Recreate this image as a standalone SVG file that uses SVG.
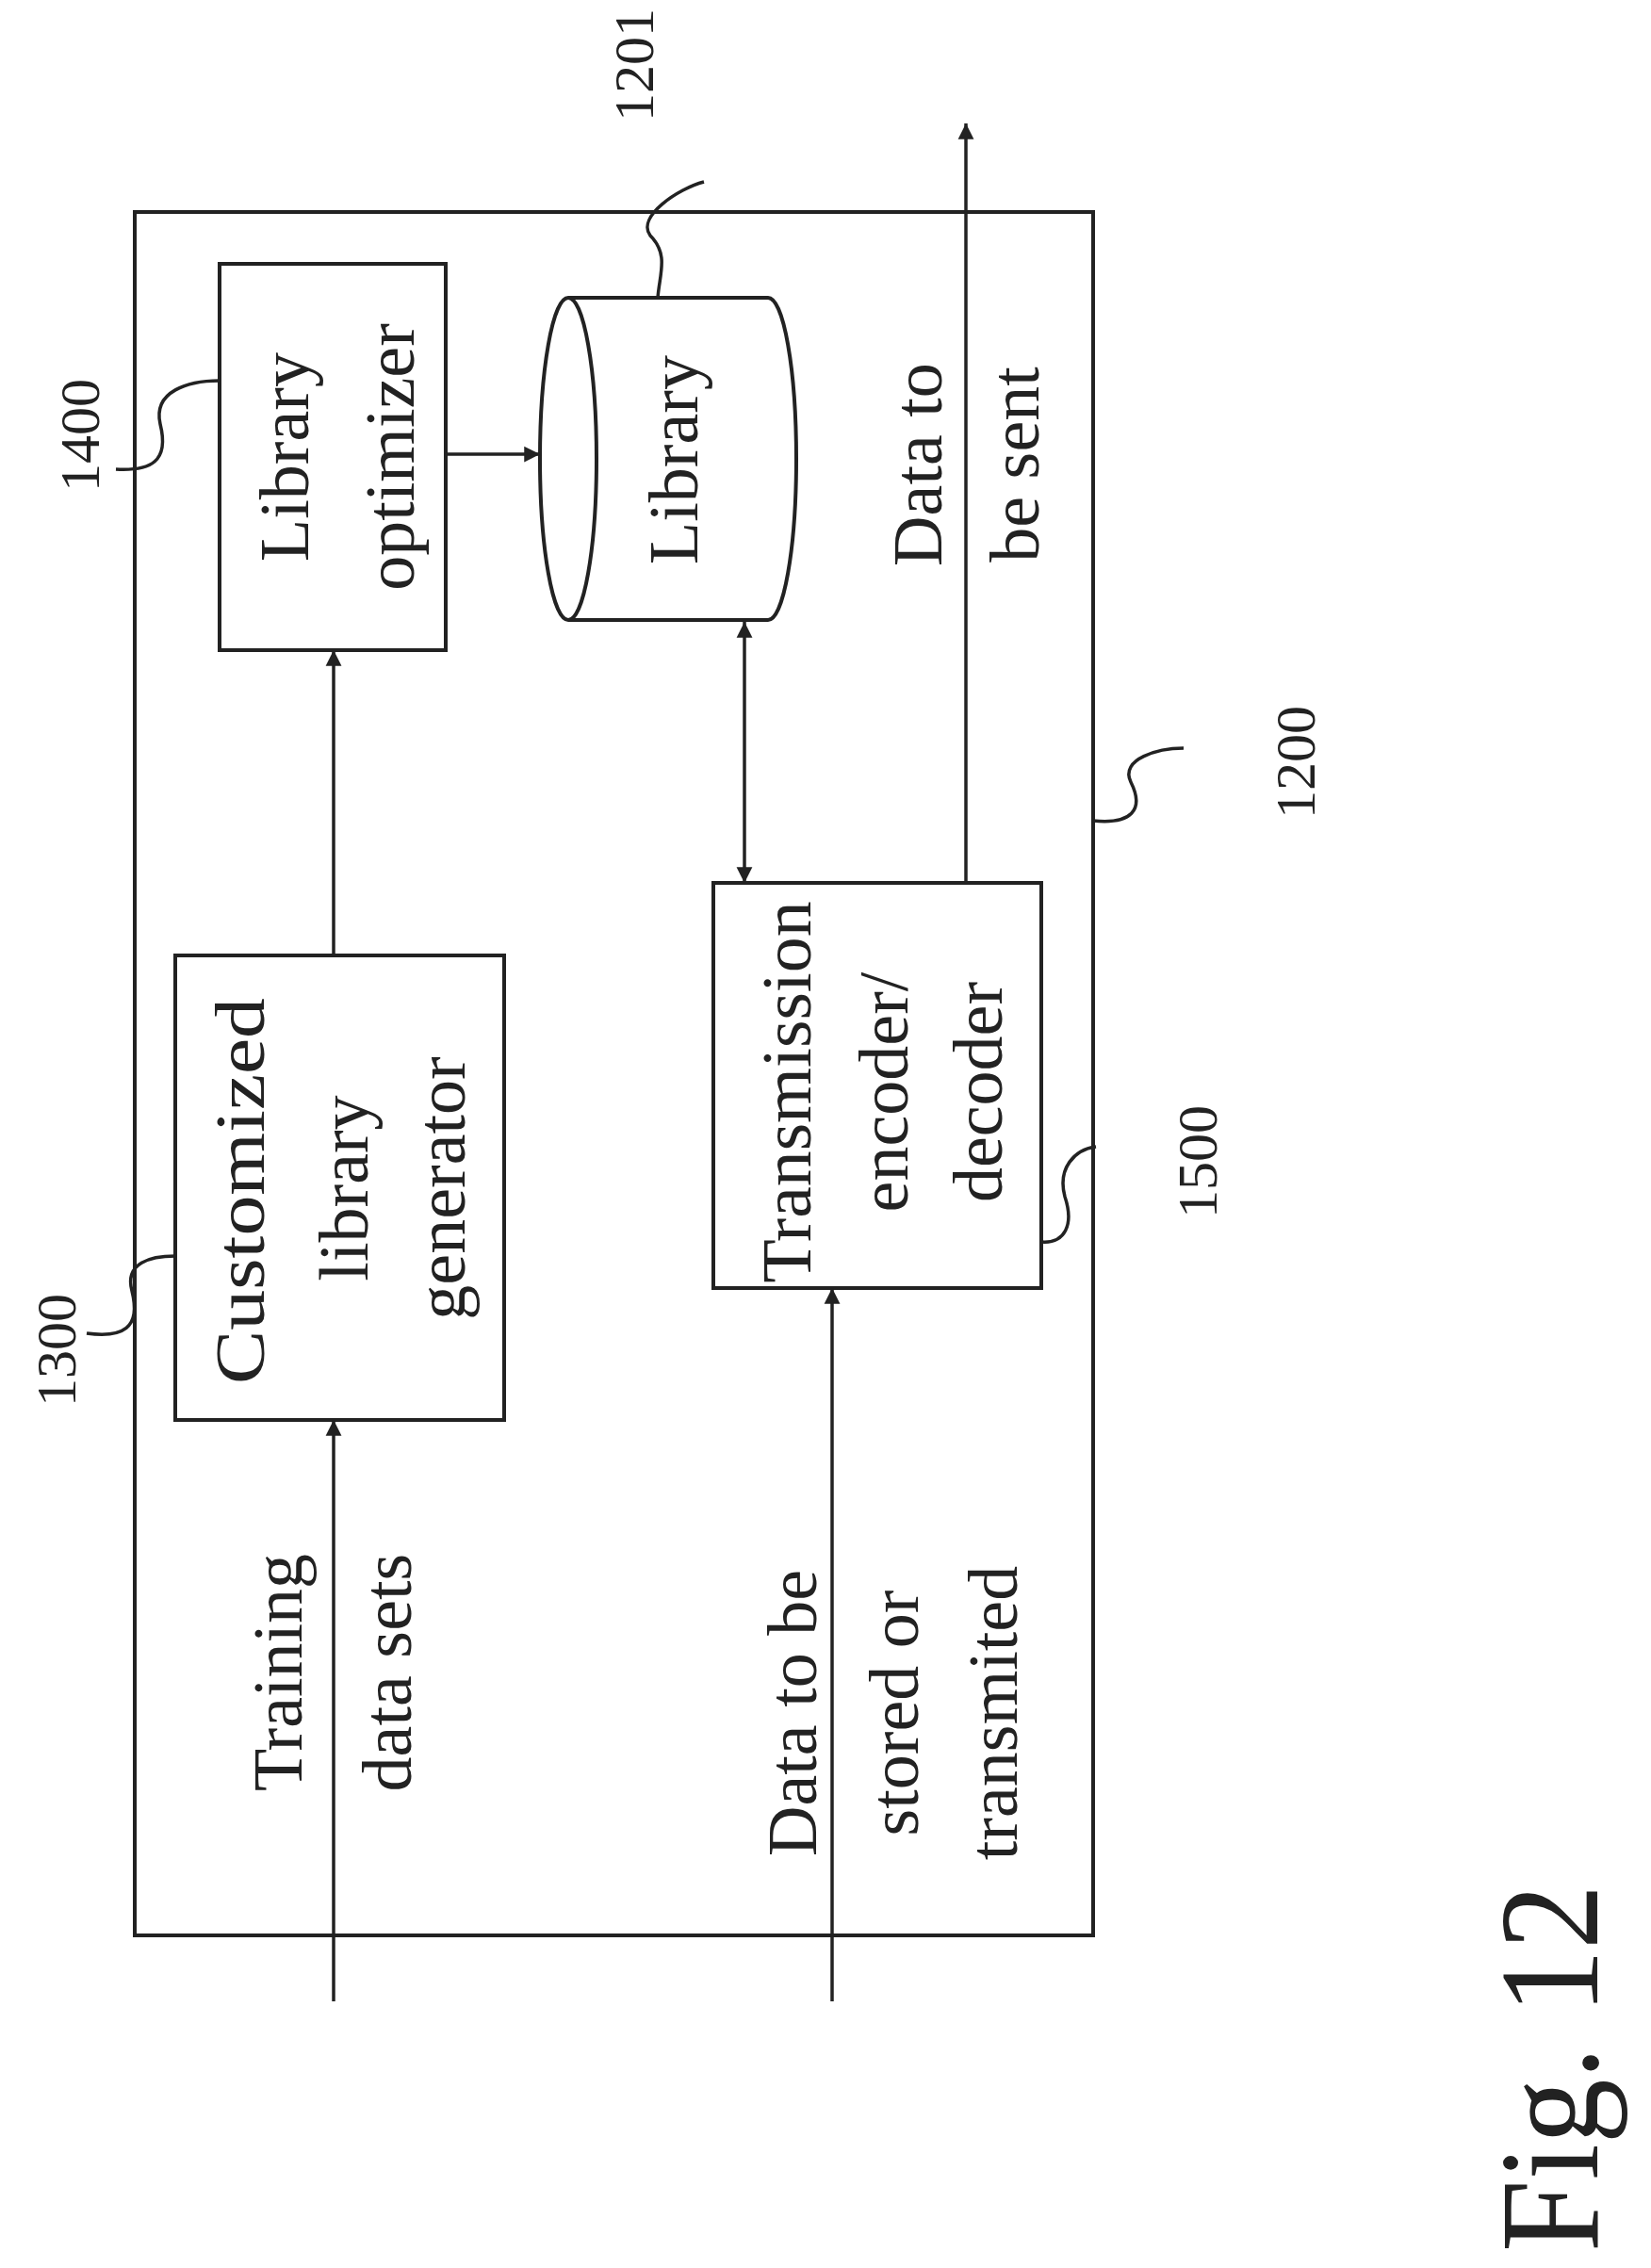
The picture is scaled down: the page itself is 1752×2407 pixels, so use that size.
<svg xmlns="http://www.w3.org/2000/svg" width="1752" height="2407" viewBox="0 0 1752 2407">
<style>
.b{fill:none;stroke:#222;stroke-width:4}
.l{fill:none;stroke:#222;stroke-width:3.5}
.t{font-family:"Liberation Serif",serif;font-size:74px;fill:#222;text-anchor:middle}
.n{font-family:"Liberation Serif",serif;font-size:60px;fill:#222;text-anchor:middle}
</style>
<defs><marker id="a" viewBox="0 0 10 10" refX="10" refY="5" markerWidth="7" markerHeight="7" orient="auto-start-reverse" markerUnits="userSpaceOnUse" style="overflow:visible"><path d="M0,0 L10,5 L0,10 z" fill="#222" transform="scale(2.4) translate(-5.8,-2.9)"/></marker></defs>
<rect width="1752" height="2407" fill="#fff"/>
<g id="outer"><rect class="b" x="143" y="225" width="1017" height="1829"/></g>
<g id="n1300"><rect class="b" x="186" y="1014" width="349" height="493"/>
<text class="t" transform="translate(280,1264) rotate(-90)" textLength="410" lengthAdjust="spacingAndGlyphs">Customized</text>
<text class="t" transform="translate(390,1261) rotate(-90)">library</text>
<text class="t" transform="translate(493,1261) rotate(-90)">generator</text></g>
<g id="n1400"><rect class="b" x="233" y="280" width="240" height="410"/>
<text class="t" transform="translate(327,485) rotate(-90)">Library</text>
<text class="t" transform="translate(439,485) rotate(-90)">optimizer</text></g>
<g id="n1201"><path class="b" d="M603,316 L815,316 A30,171 0 0 1 815,658 L603,658"/><ellipse class="b" cx="603" cy="487" rx="30" ry="171"/>
<text class="t" transform="translate(740,488) rotate(-90)">Library</text></g>
<g id="n1500"><rect class="b" x="757" y="937" width="348" height="430"/>
<text class="t" transform="translate(860,1159) rotate(-90)" textLength="405" lengthAdjust="spacingAndGlyphs">Transmission</text>
<text class="t" transform="translate(963,1159) rotate(-90)">encoder/</text>
<text class="t" transform="translate(1063,1159) rotate(-90)">decoder</text></g>
<g id="labels">
<text class="t" transform="translate(320,1775) rotate(-90)">Training</text>
<text class="t" transform="translate(436,1775) rotate(-90)">data sets</text>
<text class="t" transform="translate(866,1818) rotate(-90)">Data to be</text>
<text class="t" transform="translate(974,1818) rotate(-90)">stored or</text>
<text class="t" transform="translate(1079,1818) rotate(-90)">transmited</text>
<text class="t" transform="translate(999,493) rotate(-90)">Data to</text>
<text class="t" transform="translate(1102,493) rotate(-90)">be sent</text>
<text class="n" transform="translate(80,1433) rotate(-90)">1300</text>
<text class="n" transform="translate(105,462) rotate(-90)">1400</text>
<text class="n" transform="translate(693,69) rotate(-90)">1201</text>
<text class="n" transform="translate(1395,809) rotate(-90)">1200</text>
<text class="n" transform="translate(1291,1233) rotate(-90)">1500</text>
<text style="font-family:'Liberation Serif',serif;font-size:150px;fill:#222;text-anchor:middle" transform="translate(1695,2195) rotate(-90)" textLength="390" lengthAdjust="spacingAndGlyphs">Fig. 12</text>
</g>
<g id="connectors">
<line class="l" x1="354" y1="2124" x2="354" y2="1507" marker-end="url(#a)"/>
<line class="l" x1="354" y1="1014" x2="354" y2="690" marker-end="url(#a)"/>
<line class="l" x1="473" y1="482" x2="573" y2="482" marker-end="url(#a)"/>
<line class="l" x1="790" y1="660" x2="790" y2="937" marker-start="url(#a)" marker-end="url(#a)"/>
<line class="l" x1="883" y1="2124" x2="883" y2="1367" marker-end="url(#a)"/>
<line class="l" x1="1025" y1="937" x2="1025" y2="131" marker-end="url(#a)"/>
<path class="l" d="M92,1415 C130,1420 150,1410 140,1370 C132,1340 160,1333 186,1333"/>
<path class="l" d="M123,498 C160,500 180,490 170,450 C162,415 200,404 233,404"/>
<path class="l" d="M698,316 C700,290 710,270 690,250 C675,230 720,200 747,193"/>
<path class="l" d="M1160,871 C1200,875 1215,860 1200,830 C1188,805 1230,794 1256,794"/>
<path class="l" d="M1105,1318 C1130,1320 1140,1300 1130,1270 C1122,1240 1140,1220 1163,1217"/>
</g>
</svg>
